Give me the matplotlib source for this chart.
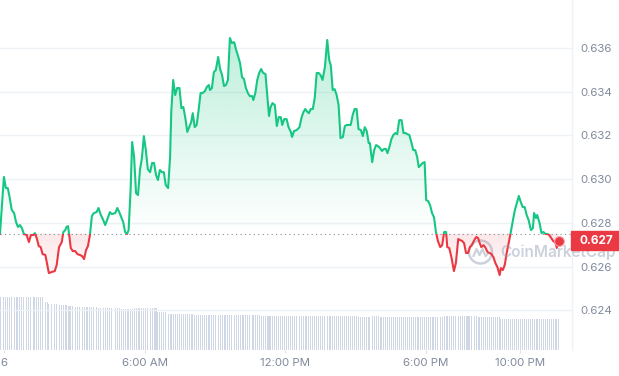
import numpy as np
import matplotlib
matplotlib.use('Agg')
import matplotlib.pyplot as plt
import matplotlib.transforms as mtransforms
from matplotlib.patches import Rectangle, Polygon, Ellipse
from matplotlib.lines import Line2D
from matplotlib.colors import to_rgb

plt.rcParams['font.family'] = ['Inter', 'DejaVu Sans']

# ----------------------------- DATA -----------------------------
# minutes since midnight, one point about every 5 minutes
price_minutes = [
    -10, 0, 5, 10, 15, 20, 26, 31, 36, 41,
    46, 51, 58, 64, 69, 75, 79, 84, 89, 94,
    99, 106, 111, 115, 122, 130, 135, 141, 148, 152,
    157, 160, 164, 167, 171, 176, 182, 188, 194, 200,
    205, 210, 215, 220, 225, 230, 237, 242, 247, 254,
    259, 264, 271, 276, 285, 290, 295, 300, 305, 310,
    315, 319, 324, 328, 333, 338, 343, 348, 353, 358,
    363, 368, 374, 379, 384, 389, 394, 399, 404, 409,
    414, 420, 425, 428, 433, 438, 443, 449, 454, 459,
    464, 469, 474, 479, 483, 488, 493, 498, 503, 508,
    514, 519, 524, 527, 532, 537, 542, 548, 553, 558,
    563, 568, 573, 578, 583, 589, 594, 599, 604, 609,
    614, 619, 624, 629, 635, 638, 643, 648, 653, 658,
    663, 669, 674, 678, 682, 687, 693, 698, 703, 708,
    712, 717, 723, 728, 734, 737, 742, 749, 756, 761,
    766, 771, 774, 780, 785, 790, 795, 800, 805, 810,
    815, 821, 827, 832, 836, 841, 846, 851, 856, 861,
    867, 872, 877, 882, 887, 892, 897, 902, 907, 913,
    918, 923, 928, 933, 936, 942, 947, 952, 957, 962,
    967, 972, 977, 981, 986, 991, 996, 1001, 1006, 1011,
    1017, 1022, 1027, 1032, 1037, 1042, 1047, 1052, 1057, 1061,
    1066, 1071, 1076, 1080, 1085, 1090, 1095, 1100, 1105, 1110,
    1116, 1121, 1126, 1131, 1134, 1139, 1145, 1151, 1156, 1162,
    1167, 1172, 1177, 1182, 1187, 1192, 1197, 1203, 1208, 1213,
    1216, 1221, 1227, 1232, 1237, 1242, 1247, 1252, 1257, 1262,
    1268, 1271, 1276, 1281, 1286, 1291, 1296, 1302, 1307, 1312,
    1317, 1322, 1327, 1332, 1337, 1342, 1348, 1353, 1356, 1361,
    1364, 1370, 1375, 1380, 1385, 1390, 1395, 1400, 1405, 1411,
    1414, 1419,
]
prices = [
    0.62750, 0.63010, 0.62959, 0.62959, 0.62913, 0.62859, 0.62845, 0.62804, 0.62781, 0.62790,
    0.62776, 0.62749, 0.62744, 0.62712, 0.62744, 0.62744, 0.62753, 0.62730, 0.62694, 0.62689,
    0.62657, 0.62653, 0.62607, 0.62570, 0.62575, 0.62579, 0.62607, 0.62689, 0.62712, 0.62758,
    0.62767, 0.62781, 0.62785, 0.62744, 0.62685, 0.62671, 0.62671, 0.62657, 0.62653, 0.62648,
    0.62634, 0.62675, 0.62694, 0.62744, 0.62831, 0.62845, 0.62849, 0.62868, 0.62840, 0.62813,
    0.62790, 0.62813, 0.62849, 0.62840, 0.62845, 0.62868, 0.62849, 0.62826, 0.62804, 0.62758,
    0.62749, 0.62767, 0.62950, 0.63170, 0.63101, 0.62936, 0.62927, 0.63042, 0.63097, 0.63197,
    0.63133, 0.63046, 0.63032, 0.63074, 0.63074, 0.63019, 0.62996, 0.63042, 0.63032, 0.63032,
    0.62973, 0.62959, 0.63101, 0.63307, 0.63454, 0.63385, 0.63417, 0.63417, 0.63325, 0.63330,
    0.63280, 0.63216, 0.63238, 0.63261, 0.63302, 0.63238, 0.63248, 0.63316, 0.63394, 0.63394,
    0.63403, 0.63422, 0.63431, 0.63408, 0.63417, 0.63490, 0.63499, 0.63559, 0.63504, 0.63476,
    0.63426, 0.63431, 0.63454, 0.63646, 0.63623, 0.63627, 0.63591, 0.63563, 0.63531, 0.63467,
    0.63458, 0.63417, 0.63394, 0.63380, 0.63380, 0.63362, 0.63394, 0.63454, 0.63486, 0.63504,
    0.63486, 0.63481, 0.63376, 0.63289, 0.63330, 0.63348, 0.63339, 0.63243, 0.63284, 0.63284,
    0.63248, 0.63275, 0.63275, 0.63238, 0.63216, 0.63193, 0.63220, 0.63225, 0.63238, 0.63280,
    0.63307, 0.63321, 0.63312, 0.63302, 0.63321, 0.63321, 0.63371, 0.63486, 0.63486, 0.63476,
    0.63454, 0.63513, 0.63637, 0.63545, 0.63522, 0.63408, 0.63412, 0.63385, 0.63339, 0.63188,
    0.63193, 0.63243, 0.63248, 0.63248, 0.63248, 0.63293, 0.63321, 0.63321, 0.63229, 0.63225,
    0.63197, 0.63238, 0.63220, 0.63165, 0.63165, 0.63078, 0.63133, 0.63156, 0.63151, 0.63142,
    0.63129, 0.63138, 0.63138, 0.63119, 0.63147, 0.63183, 0.63202, 0.63211, 0.63206, 0.63270,
    0.63270, 0.63211, 0.63211, 0.63206, 0.63202, 0.63170, 0.63133, 0.63133, 0.63101, 0.63055,
    0.63064, 0.63074, 0.63078, 0.62904, 0.62900, 0.62881, 0.62845, 0.62826, 0.62758, 0.62717,
    0.62689, 0.62698, 0.62758, 0.62758, 0.62689, 0.62685, 0.62639, 0.62579, 0.62616, 0.62726,
    0.62721, 0.62717, 0.62707, 0.62662, 0.62662, 0.62689, 0.62698, 0.62721, 0.62735, 0.62730,
    0.62712, 0.62689, 0.62698, 0.62685, 0.62666, 0.62662, 0.62657, 0.62643, 0.62616, 0.62598,
    0.62561, 0.62593, 0.62584, 0.62607, 0.62662, 0.62707, 0.62753, 0.62813, 0.62859, 0.62891,
    0.62923, 0.62895, 0.62872, 0.62872, 0.62836, 0.62813, 0.62767, 0.62776, 0.62845, 0.62822,
    0.62836, 0.62799, 0.62753, 0.62758, 0.62749, 0.62749, 0.62744, 0.62730, 0.62717, 0.62707,
    0.62685, 0.62717,
]

# volume level (arbitrary units) holding from each start minute on
vol_starts = [-10, 100, 113, 136, 161, 177, 238, 297, 330, 391,
              417, 484, 637, 655, 903, 942, 962, 1123, 1210, 1269]
vol_levels = [527, 483, 460, 450, 440, 430, 423, 413, 420, 383,
              360, 350, 353, 340, 333, 343, 333, 340, 327, 313]

tick_minutes = [0, 360, 720, 1080, 1320]
tick_labels = ['6', '6:00 AM', '12:00 PM', '6:00 PM', '10:00 PM']
price_ticks = [0.624, 0.626, 0.628, 0.630, 0.632, 0.634, 0.636]

GREEN = '#16c784'
RED = '#ea3943'
GRID = '#eff2f5'
LABEL = '#808a9d'
VOL = '#cfd6e4'


def gradient_fill(ax, x, y_edge, base, far, color, a_far, a_base):
    r, g, b = to_rgb(color)
    lo, hi = sorted([base, far])
    img = np.zeros((100, 1, 4))
    img[..., 0], img[..., 1], img[..., 2] = r, g, b
    if far > base:
        img[:, 0, 3] = np.linspace(a_base, a_far, 100)
    else:
        img[:, 0, 3] = np.linspace(a_far, a_base, 100)
    im = ax.imshow(img, aspect='auto', origin='lower',
                   extent=[x[0], x[-1], lo, hi], zorder=1)
    verts = np.column_stack([np.r_[x[0], x, x[-1]], np.r_[base, y_edge, base]])
    poly = Polygon(verts, closed=True, fc='none', ec='none')
    ax.add_patch(poly)
    im.set_clip_path(poly)


t = np.array(price_minutes, dtype=float)
p = np.array(prices)
base = p[0]
last = p[-1]

fig = plt.figure(figsize=(6.19, 3.76), dpi=100)
fig.patch.set_facecolor('white')
ax = fig.add_axes([0, 26 / 376, 572 / 619, 350 / 376])
axv = ax.twinx()

# volume bars underneath
idx = np.searchsorted(vol_starts, t, side='right') - 1
vol = np.array(vol_levels)[idx]
axv.bar(t, vol, width=2.6, color=VOL, linewidth=0, antialiased=False)
axv.set_ylim(0, 3500)
axv.set_yticks([])
for s in axv.spines.values():
    s.set_visible(False)
ax.set_zorder(axv.get_zorder() + 1)
ax.patch.set_visible(False)

# gradient areas
gradient_fill(ax, t, np.maximum(p, base), base, p.max(), GREEN, 0.28, 0.0)
gradient_fill(ax, t, np.minimum(p, base), base, p.min(), RED, 0.03, 0.12)

# price line, green above the open and red below
lg, = ax.plot(t, p, color=GREEN, lw=1.5, zorder=3, solid_joinstyle='round')
lg.set_clip_path(Rectangle((-1000, base), 5000, 1, transform=ax.transData))
lr, = ax.plot(t, p, color=RED, lw=1.5, zorder=3, solid_joinstyle='round')
lr.set_clip_path(Rectangle((-1000, base - 1), 5000, 1, transform=ax.transData))
ax.plot(t[-1], last, 'o', color=RED, ms=7, mec='#f4a3a8', mew=0.8, zorder=4)

ax.axhline(base, color=LABEL, lw=0.8, ls=(0, (1, 3)), zorder=2)

ax.set_xlim(-10, 1453)
ax.set_ylim(0.62218, 0.63820)

ax.set_yticks(price_ticks)
ax.set_yticklabels([f'{v:.3f}' for v in price_ticks])
ax.yaxis.tick_right()
ax.grid(axis='y', color=GRID, lw=1)
ax.set_axisbelow(True)
ax.tick_params(axis='y', length=0, pad=6, labelsize=8.25, labelcolor=LABEL)

ax.set_xticks(tick_minutes)
ax.set_xticklabels(tick_labels)
ax.tick_params(axis='x', length=2.5, width=0.8, color='#dde1e8', pad=3,
               labelsize=8.25, labelcolor=LABEL)

for side in ['top', 'left', 'bottom']:
    ax.spines[side].set_visible(False)
ax.spines['right'].set_color(GRID)
ax.spines['right'].set_linewidth(1)

# watermark (under the price tag)
wm = '#9aa4b8'
cx, cy = 480.5, 252
ax.text(500 / 572, 1 - cy / 350, 'CoinMarketCap', transform=ax.transAxes,
        fontsize=11, fontweight='semibold', color=wm, alpha=0.5,
        ha='left', va='center', clip_on=False, zorder=4.5)
fig.add_artist(Ellipse((cx / 619, 1 - cy / 376), 23 / 619, 23 / 376,
                       transform=fig.transFigure, fill=False, ec=wm,
                       lw=1.8, alpha=0.5))
sq = [(-7, -4), (-4, 3), (-1, -3), (2, 3), (5, -4), (7, -2)]
fig.add_artist(Line2D([(cx + dx) / 619 for dx, dy in sq],
                      [1 - (cy - dy) / 376 for dx, dy in sq],
                      transform=fig.transFigure, color=wm, lw=1.6, alpha=0.5))

# current price tag on the axis
trans = mtransforms.blended_transform_factory(ax.transAxes, ax.transData)
ax.add_patch(Rectangle((0.998, last - 0.000435), 50 / 572, 0.00087,
                       transform=trans, color=RED, clip_on=False, zorder=5))
ax.text(1.0 + 24 / 572, last, f'{last:.3f}', transform=trans, ha='center',
        va='center', color='white', fontsize=8.5, fontweight='bold', zorder=6)

fig.savefig('out.png', dpi=100)
